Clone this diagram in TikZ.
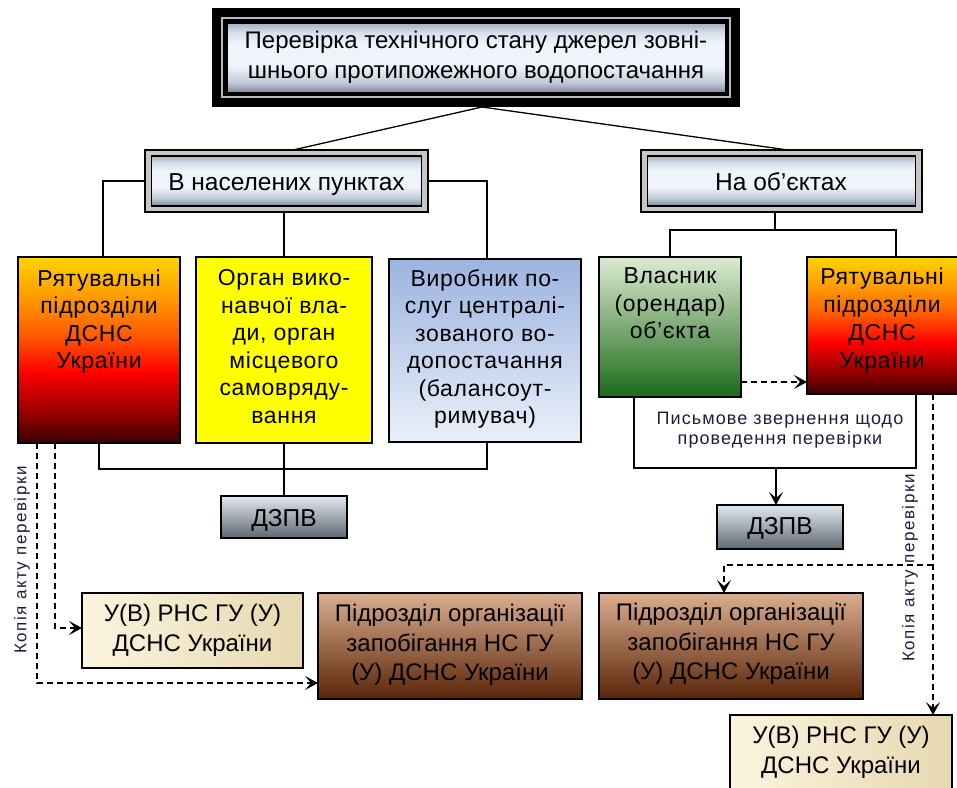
\documentclass[tikz,border=0pt]{standalone}
\usepackage{fontspec}
\setmainfont{Liberation Sans}
\usetikzlibrary{arrows.meta,calc}
\definecolor{rdk}{HTML}{3A0000}
\definecolor{rd2}{HTML}{A00000}
\definecolor{rd3}{HTML}{FF0000}
\definecolor{or1}{HTML}{FF5A00}
\definecolor{or2}{HTML}{FF9A00}
\definecolor{ye1}{HTML}{FFD400}
\definecolor{mtop}{HTML}{A3AEC1}
\definecolor{mup}{HTML}{D8E0EC}
\definecolor{mmid}{HTML}{EFF3FA}
\definecolor{mlow}{HTML}{C3CCD9}
\definecolor{mbot}{HTML}{7D889B}
\definecolor{vtop}{HTML}{9CB4E0}
\definecolor{vbot}{HTML}{EAF0F9}
\definecolor{gtop}{HTML}{DCEBD2}
\definecolor{gmid}{HTML}{7FAE68}
\definecolor{gbot}{HTML}{1C6A18}
\definecolor{dtop}{HTML}{E2E8F0}
\definecolor{dmid}{HTML}{B0BAC6}
\definecolor{dbot}{HTML}{5E6872}
\definecolor{btop}{HTML}{DBAE90}
\definecolor{bmid}{HTML}{A5582E}
\definecolor{bbot}{HTML}{5A2408}
\definecolor{cl}{HTML}{FCF4DE}
\definecolor{cr}{HTML}{E6D8B0}
\definecolor{notec}{HTML}{1E1E3C}
\pgfdeclareverticalshading{ryat}{100bp}{color(0bp)=(rdk); color(25bp)=(rdk); color(34bp)=(rd2); color(44bp)=(rd3); color(54bp)=(or1); color(64bp)=(or2); color(75bp)=(ye1); color(100bp)=(ye1)}
\pgfdeclareverticalshading{metalsh}{100bp}{color(0bp)=(mbot); color(25bp)=(mbot); color(33bp)=(mlow); color(44bp)=(mmid); color(60bp)=(mmid); color(68bp)=(mup); color(75bp)=(mtop); color(100bp)=(mtop)}
\begin{document}
\begin{tikzpicture}[x=1pt,y=-1pt,
  every node/.style={inner sep=0pt, outer sep=0pt},
  sz/.style 2 args={minimum width=#1, minimum height=#2},
  box/.style={draw=black, line width=1.4pt, anchor=north west},
  metal/.style={shade, shading=metalsh},
  txt/.style={align=center, font=\fontsize{23}{27.5}\selectfont\addfontfeature{LetterSpace=3}},
  btxt/.style={align=center, font=\fontsize{24}{29.5}\selectfont},
  hdr/.style={font=\fontsize{24.5}{28}\selectfont},
  lbl/.style={font=\fontsize{17}{20}\selectfont\addfontfeature{LetterSpace=9}, text=notec},
  note/.style={align=center, font=\fontsize{18}{20.5}\selectfont\addfontfeature{LetterSpace=6}, text=notec},
  conn/.style={line width=1.3pt},
  dsh/.style={line width=1.2pt, dash pattern=on 6pt off 4pt},
  arr/.style={-{Stealth[length=13pt,width=14pt,inset=6pt]}},
]
\useasboundingbox (0,0) rectangle (957,787);
\fill[white] (0,0) rectangle (957,787);

% title
\node[fill=black, anchor=north west, sz={528}{99}] (t) at (212,8) {};
\node[draw=gray!55, line width=2.5pt, anchor=north west, sz={508}{79}] (tg) at (222,18) {};
\node[box, line width=2pt, metal, sz={499}{70}] (ti) at (226.5,23) {};
\node[align=center, font=\fontsize{24}{30}\selectfont, anchor=north] (tt) at (476,31.5)
  {Перевірка технічного стану джерел зовні-\\шнього протипожежного водопостачання};

% second level
\node[box, line width=2pt, fill=gray!45, sz={283}{62}] (a) at (145,150) {};
\node[box, line width=1.6pt, metal, sz={270}{50}] (ai) at (151.5,156) {};
\node[hdr, anchor=base] (at) at (286.5,190) {В населених пунктах};
\node[box, line width=2pt, fill=gray!45, sz={281}{62}] (b) at (641,150) {};
\node[box, line width=1.6pt, metal, sz={268}{50}] (bi) at (647.5,156) {};
\node[hdr, anchor=base] (bt) at (781,190) {На об’єктах};

% third level
\node[box, sz={162}{186}, shade, shading=ryat] (r1) at (18,257) {};
\node[txt, anchor=north] (r1t) at (99,269.5) {Рятувальні\\підрозділи\\ДСНС\\України};
\node[box, sz={176}{186}, fill={rgb,255:red,255;green,255;blue,0}] (o) at (196,257) {};
\node[txt, anchor=north] (ot) at (284,269.5) {Орган вико-\\навчої вла-\\ди, орган\\місцевого\\самовряду-\\вання};
\node[box, sz={192}{183}, top color=vtop, bottom color=vbot] (v) at (389,259) {};
\node[txt, anchor=north] (vt) at (485,269.5) {Виробник по-\\слуг централі-\\зованого во-\\допостачання\\(балансоут-\\римувач)};
\node[box, sz={142}{140}, top color=gtop, middle color=gmid, bottom color=gbot] (p1) at (599,257) {};
\node[txt, anchor=north] (p1t) at (670,268) {Власник\\(орендар)\\об’єкта};
\node[box, sz={153}{137}, shade, shading=ryat] (r2) at (807,257) {};
\node[txt, anchor=north, font=\fontsize{23}{28}\selectfont\addfontfeature{LetterSpace=3}] (r2t) at (882,267.5) {Рятувальні\\підрозділи\\ДСНС\\України};

% DZPV
\node[box, sz={126}{42}, top color=dtop, middle color=dmid, bottom color=dbot] (d1) at (221,496) {};
\node[hdr, anchor=base] (d1t) at (284,526) {ДЗПВ};
\node[box, sz={126}{44}, top color=dtop, middle color=dmid, bottom color=dbot] (d2) at (717,505) {};
\node[hdr, anchor=base] (d2t) at (780,534) {ДЗПВ};

% bottom level
\node[box, sz={221}{75}, left color=cl, right color=cr] (u1) at (82,593) {};
\node[btxt, anchor=north] (u1t) at (192.5,604.5) {У(В) РНС ГУ (У)\\ДСНС України};
\node[box, sz={264}{106}, top color=btop, middle color=bmid, bottom color=bbot] (s1) at (318,593) {};
\node[btxt, anchor=north] (s1t) at (450,604.5) {Підрозділ організації\\запобігання НС ГУ\\(У) ДСНС України};
\node[box, sz={264}{106}, top color=btop, middle color=bmid, bottom color=bbot] (s2) at (599,593) {};
\node[btxt, anchor=north] (s2t) at (731,603.5) {Підрозділ організації\\запобігання НС ГУ\\(У) ДСНС України};
\node[box, sz={222}{90}, left color=cl, right color=cr] (u2) at (730,715) {};
\node[btxt, anchor=north] (u2t) at (841,726.5) {У(В) РНС ГУ (У)\\ДСНС України};

% solid connectors
\draw[conn] ([xshift=6pt]t.south) -- ([xshift=6.5pt]a.north);
\draw[conn] ([xshift=6pt]t.south) -- ([xshift=6.5pt]b.north);
\draw[conn] (a.west) -| ([xshift=4pt]r1.north);
\draw[conn] (o.north |- a.south) -- (o.north);
\draw[conn] (a.east) -| ([xshift=2pt]v.north);
\coordinate (bj) at (775,230);
\draw[conn] (bj |- b.south) -- (bj);
\draw[conn] (p1.north) |- (bj) -| ([xshift=12.5pt]r2.north);
\coordinate (hl) at (284,469);
\draw[conn] (r1.south) |- (hl) -| ([xshift=2pt]v.south);
\draw[conn] (o.south) -- (d1.north);
\coordinate (hr) at (776,468);
\draw[conn] ([xshift=-36pt]p1.south) |- (hr) -| ([xshift=32.5pt]r2.south);
\draw[conn,arr] (hr) -- (hr |- d2.north);

% dashed connectors
\coordinate (pd) at ([yshift=-55pt]p1.east);
\draw[dsh,arr] (pd) -- (pd -| r2.west);
\coordinate (l1) at (37,683);
\coordinate (l2) at (55,628);
\draw[dsh,arr] (l1 |- r1.south) -- (l1) -- (l1 -| s1.west);
\draw[dsh,arr] (l2 |- r1.south) -- (l2) -- (l2 -| u1.west);
\coordinate (rr) at (933,565);
\coordinate (rs) at (724,565);
\draw[dsh,arr] (rr |- r2.south) -- (rr |- u2.north);
\draw[dsh,arr] (rr) -- (rs) -- (rs |- s2.north);

% labels
\node[lbl, rotate=90] (k1) at (22,560) {Копія акту перевірки};
\node[lbl, rotate=90] (k2) at (910,568) {Копія акту перевірки};
\node[note] (pz) at (780,430) {Письмове звернення щодо\\проведення перевірки};
\end{tikzpicture}
\end{document}
